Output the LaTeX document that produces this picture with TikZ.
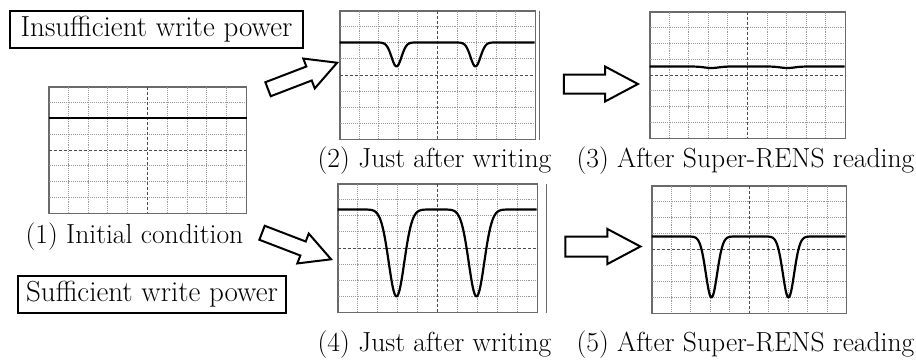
\documentclass[tikz,border=0pt]{standalone}
\usepackage{tikz}
\usetikzlibrary{arrows.meta,positioning,shapes.arrows,calc}
\definecolor{gridgray}{HTML}{9A9A9A}
\definecolor{framegray}{HTML}{6A6A6A}

\tikzset{
  screen/.style={draw=framegray, line width=1pt, inner sep=0pt},
  gridline/.style={gridgray, densely dotted, line width=0.9pt},
  centerline/.style={black!70, densely dashed, line width=0.9pt},
  signal/.style={black, line width=2.2pt, line join=round},
  powerbox/.style={draw, line width=2pt, inner sep=0pt, font=\fontsize{29}{34}\selectfont, minimum height=37pt},
  caption/.style={font=\fontsize{27.6}{32}\selectfont, inner sep=0pt},
  fatarrow/.style={single arrow, draw, line width=2pt, fill=white, inner xsep=0pt,
    single arrow tip angle=56, minimum height=74pt},
}

% dotted 10 x 8 grid of an oscilloscope screen
\newcommand{\screengrid}[1]{%
  \foreach \i in {1,2,3,4,6,7,8,9}
    \draw[gridline] ($(#1.north west)!\i/10!(#1.north east)$) -- ($(#1.south west)!\i/10!(#1.south east)$);
  \foreach \j in {1,2,3,5,6,7}
    \draw[gridline] ($(#1.north west)!\j/8!(#1.south west)$) -- ($(#1.north east)!\j/8!(#1.south east)$);
  \draw[centerline] (#1.north) -- (#1.south);
  \draw[centerline] (#1.west) -- (#1.east);
  \draw[framegray, line width=1pt] (#1.north west) rectangle (#1.south east);
}

\begin{document}
\begin{tikzpicture}[x=1pt, y=-1pt]
\useasboundingbox (0,0) rectangle (916,360);

% write power boxes
\node[powerbox, minimum width=293pt] (insuff) at (156.5,29.5) {Insufficient write power};
\node[powerbox, minimum width=268pt] (suff) at (152,294.5) {Sufficient write power};

% screens
\node[screen, minimum width=197pt, minimum height=126pt] (init) at (147.5,150) {};
\node[screen, minimum width=195pt, minimum height=128pt] (lowwrite) at (437.5,75) {};
\node[screen, minimum width=195pt, minimum height=126pt] (lowread) at (747.5,75) {};
\node[screen, minimum width=199pt, minimum height=128pt] (highwrite) at (437.5,248) {};
\node[screen, minimum width=194pt, minimum height=127pt] (highread) at (749,249.5) {};

\screengrid{init}
\screengrid{lowwrite}
\screengrid{lowread}
\screengrid{highwrite}
\screengrid{highread}

% extra axis line right of the written screens
\draw[framegray, line width=1pt] ([xshift=4pt]lowwrite.north east) -- ([xshift=4pt]lowwrite.south east);
\draw[framegray, line width=1pt] ([xshift=9pt]highwrite.north east) -- ([xshift=9pt]highwrite.south east);

% signals
\draw[signal] ([yshift=-31.5pt]init.north west) -- ([yshift=-31.5pt]init.north east);
\begin{scope}[shift={(lowwrite.north west)}]
  \draw[signal] plot[domain=0:195, samples=160, smooth]
    (\x, {32+24*exp(max(-20,-((\x-57)/7)^2))+24*exp(max(-20,-((\x-136)/7)^2))});
\end{scope}
\begin{scope}[shift={(lowread.north west)}]
  \draw[signal] plot[domain=0:195, samples=120, smooth]
    (\x, {55+1.5*exp(max(-20,-((\x-62)/10)^2))+1.5*exp(max(-20,-((\x-138)/10)^2))});
\end{scope}
\begin{scope}[shift={(highwrite.north west)}]
  \draw[signal] plot[domain=0:199, samples=200, smooth]
    (\x, {26+87*exp(max(-20,-((\x-59)/11)^2))+87*exp(max(-20,-((\x-139)/11)^2))});
\end{scope}
\begin{scope}[shift={(highread.north west)}]
  \draw[signal] plot[domain=0:194, samples=200, smooth]
    (\x, {51+61*exp(max(-20,-((\x-60)/8)^2))+61*exp(max(-20,-((\x-137)/8)^2))});
\end{scope}

% captions
\node[caption, below=9pt of init, xshift=-13pt] (cap1) {(1) Initial condition};
\node[caption, below=7pt of lowwrite, xshift=-3pt] (cap2) {(2) Just after writing};
\node[caption, below=8pt of lowread, xshift=-2pt] (cap3) {(3) After Super-RENS reading};
\node[caption, below=18pt of highwrite, xshift=-3pt] (cap4) {(4) Just after writing};
\node[caption, below=17pt of highread, xshift=-3.5pt] (cap5) {(5) After Super-RENS reading};

% block arrows
\node[fatarrow, inner ysep=6.5pt, single arrow head extend=8.5pt, rotate=21] (toLowWrite) at (296,78.5) {};
\node[fatarrow, inner ysep=6.5pt, single arrow head extend=8.5pt, rotate=-21] (toHighWrite) at (290,243.5) {};
\node[fatarrow, inner ysep=8.5pt, single arrow head extend=8pt] (toLowRead) at (592,84) {};
\node[fatarrow, inner ysep=9pt, single arrow head extend=7.5pt, minimum height=75pt] (toHighRead) at (593.5,246.5) {};
\end{tikzpicture}
\end{document}
